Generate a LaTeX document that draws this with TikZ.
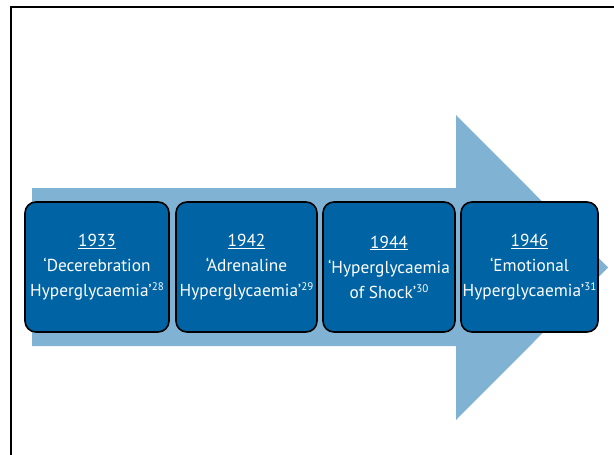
\documentclass[tikz,border=0pt]{standalone}
\usepackage{fontspec}
\setmainfont{PT Sans}
\definecolor{arrowblue}{HTML}{7FB2D3}
\definecolor{boxblue}{HTML}{0063A3}
\newcommand{\refsup}[1]{\raisebox{6pt}{\fontsize{11}{11}\selectfont #1}}
\begin{document}
\begin{tikzpicture}[x=1pt,y=-1pt,
  stagebox/.style={draw=black,line width=1.6pt,fill=boxblue,rounded corners=11pt,
    text=white,align=center,inner sep=0pt,minimum height=130pt,
    font=\fontsize{17.3}{25}\selectfont},
  framerule/.style={draw=black,line width=2pt}]
\useasboundingbox (0,0) rectangle (614,455);
% frame
\coordinate (fb) at (10.5,460);
\coordinate (fc) at (10.5,6.5);
\coordinate (fr) at (620,6.5);
\draw[framerule] (fb) -- (fc) -- (fr);
% big arrow
\fill[arrowblue] (32,188) -- (456,188) -- (456,115) -- (608,267.5) -- (456,420) -- (456,346) -- (32,346) -- cycle;
% boxes
\node[stagebox,minimum width=144pt] (b1) at (97,267) {\underline{1933}\\‘Decerebration\\Hyperglycaemia’\refsup{28}};
\node[stagebox,minimum width=141pt] (b2) at (246.5,267) {\underline{1942}\\‘Adrenaline\\Hyperglycaemia’\refsup{29}};
\node[stagebox,minimum width=132pt] (b3) at (389,267) {\underline{1944}\\‘Hyperglycaemia\\of Shock’\refsup{30}};
\node[stagebox,minimum width=137pt] (b4) at (529.5,267) {\underline{1946}\\‘Emotional\\Hyperglycaemia’\refsup{31}};
\end{tikzpicture}
\end{document}
